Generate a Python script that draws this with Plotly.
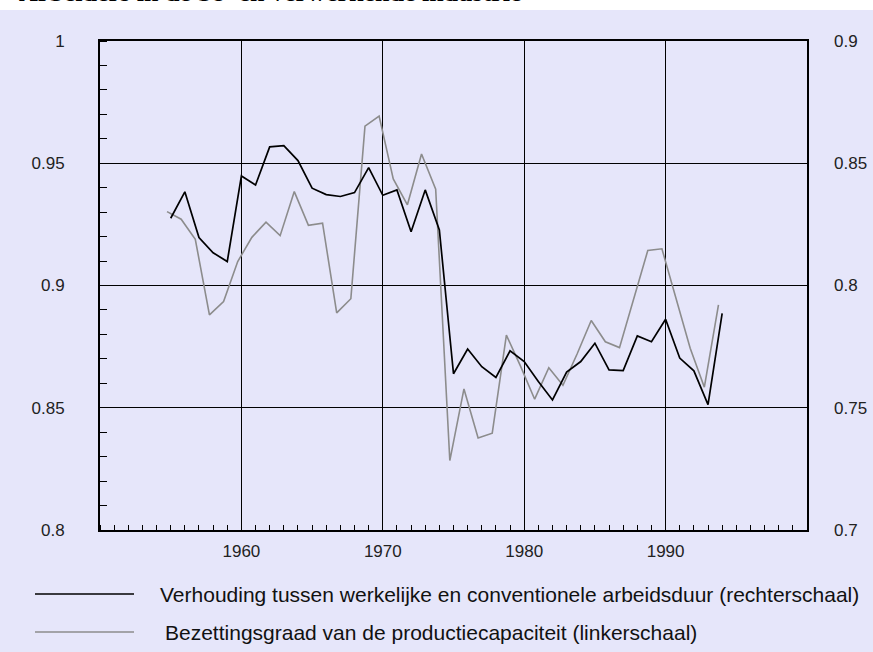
import plotly.graph_objects as go

# Data
years = list(range(1955, 1995))
# Verhouding tussen werkelijke en conventionele arbeidsduur (rechterschaal)
ratio = [0.8275, 0.8383, 0.8196, 0.8134, 0.8098, 0.8448, 0.8411, 0.8567, 0.8572, 0.8511,
         0.8398, 0.8372, 0.8364, 0.8380, 0.8482, 0.8369, 0.8391, 0.8220, 0.8391, 0.8227,
         0.7639, 0.7740, 0.7668, 0.7624, 0.7733, 0.7689, 0.7607, 0.7532, 0.7646, 0.7689,
         0.7764, 0.7655, 0.7652, 0.7794, 0.7770, 0.7862, 0.7703, 0.7651, 0.7513, 0.7886]
# Bezettingsgraad van de productiecapaciteit (linkerschaal)
capacity = [0.9302, 0.9271, 0.9189, 0.8880, 0.8934, 0.9098, 0.9197, 0.9259, 0.9204, 0.9384,
            0.9246, 0.9255, 0.8888, 0.8946, 0.9652, 0.9693, 0.9436, 0.9330, 0.9538, 0.9394,
            0.8284, 0.8577, 0.8376, 0.8396, 0.8797, 0.8670, 0.8535, 0.8664, 0.8592, 0.8720,
            0.8857, 0.8770, 0.8746, 0.8941, 0.9143, 0.9150, 0.8946, 0.8743, 0.8584, 0.8921]
capacity_shift = -0.26

x_ticks = [1960, 1970, 1980, 1990]
left_ticks = [0.8, 0.85, 0.9, 0.95, 1.0]
left_labels = ["0.8", "0.85", "0.9", "0.95", "1"]
right_ticks = [0.7, 0.75, 0.8, 0.85, 0.9]
right_labels = ["0.7", "0.75", "0.8", "0.85", "0.9"]

title = "Arbeiders in de be- en verwerkende industrie"
legend_black = "Verhouding tussen werkelijke en conventionele arbeidsduur (rechterschaal)"
legend_gray = "Bezettingsgraad van de productiecapaciteit (linkerschaal)"

W, H = 873, 652
L, R, T, B = 100, 807, 41, 530
BG = "#e6e6fa"
FONT = "Liberation Sans, Arial, sans-serif"


def px(xp):
    return (xp - L) / (R - L)


def py(yp):
    return (B - yp) / (B - T)


fig = go.Figure()
fig.add_trace(go.Scatter(x=[y + capacity_shift for y in years], y=capacity, mode="lines",
                         line=dict(color="#8c8c8c", width=1.6), yaxis="y", showlegend=False))
fig.add_trace(go.Scatter(x=years, y=ratio, mode="lines",
                         line=dict(color="#000000", width=1.7), yaxis="y2", showlegend=False))

fig.update_layout(
    width=W, height=H,
    margin=dict(l=L, r=W - R, t=T, b=H - B, pad=0, autoexpand=False),
    paper_bgcolor=BG, plot_bgcolor=BG,
    font=dict(family=FONT, size=17, color="#222"),
    xaxis=dict(range=[1950, 2000], tickvals=x_ticks, ticktext=[str(v) for v in x_ticks],
               showgrid=True, gridcolor="black", gridwidth=1, ticks="",
               showline=True, linecolor="black", linewidth=2, mirror=True,
               zeroline=False, ticklabelstandoff=5, automargin=False,
               minor=dict(dtick=1, tick0=1950, ticks="inside", ticklen=5, tickcolor="black",
                          tickwidth=1, showgrid=False)),
    yaxis=dict(range=[0.8, 1.0], tickvals=left_ticks, ticktext=left_labels,
               showgrid=True, gridcolor="black", gridwidth=1, ticks="",
               showline=True, linecolor="black", linewidth=2, mirror=True,
               zeroline=False, ticklabelstandoff=30, automargin=False,
               minor=dict(dtick=0.01, tick0=0.8, ticks="inside", ticklen=7, tickcolor="black",
                          tickwidth=1, showgrid=False)),
    yaxis2=dict(range=[0.7, 0.9], tickvals=right_ticks, ticktext=right_labels,
                overlaying="y", side="right", showgrid=False, ticks="",
                showline=False, zeroline=False, ticklabelstandoff=26, automargin=False),
)

# white strip at top with cropped title
fig.add_shape(type="rect", xref="paper", yref="paper", x0=px(-10), x1=px(W + 10),
              y0=py(10), y1=py(-20), fillcolor="white", line=dict(width=0), layer="below")
fig.add_annotation(text="<b>" + title + "</b>", xref="paper", yref="paper",
                   x=px(17), y=py(9), xanchor="left", yanchor="bottom", showarrow=False,
                   font=dict(family="Liberation Serif, Times New Roman, serif", size=26, color="black"))

# legend
for yy, col, txt, xt in [(594, "#000000", legend_black, 158), (632, "#8c8c8c", legend_gray, 163)]:
    fig.add_shape(type="line", xref="paper", yref="paper", x0=px(35), x1=px(134),
                  y0=py(yy), y1=py(yy), line=dict(color=col, width=1.6))
    fig.add_annotation(text=txt, xref="paper", yref="paper", x=px(xt), y=py(yy),
                       xanchor="left", yanchor="middle", showarrow=False,
                       font=dict(family=FONT, size=21, color="#111"))

fig.write_html("out.html", config={"displayModeBar": False},
               post_script="document.body.style.margin='0';document.body.style.overflow='hidden';")
